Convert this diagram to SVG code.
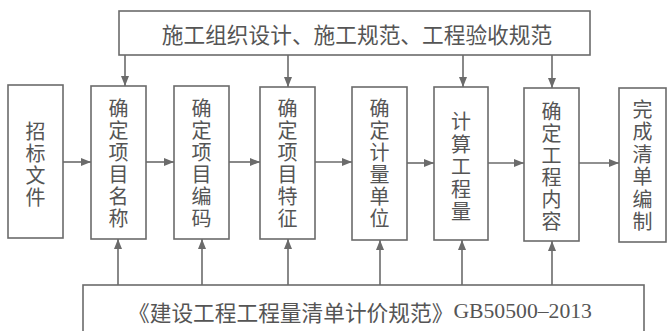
<svg xmlns="http://www.w3.org/2000/svg" width="669" height="331" viewBox="0 0 669 331">
<style>
.box{fill:none;stroke:#6b6b6b;stroke-width:1.6}
.t{font-family:"Noto Sans CJK SC","Noto Sans CJK JP",sans-serif;font-size:20px;fill:#555;text-anchor:middle;dominant-baseline:central}
.h{font-size:21.7px}
.ln{stroke:#6b6b6b;stroke-width:1.6;fill:none;marker-end:url(#ah)}
.lat{font-family:"Liberation Serif",serif}
</style>
<defs>
<marker id="ah" markerUnits="userSpaceOnUse" markerWidth="10" markerHeight="8" refX="10" refY="4" orient="auto">
<path d="M0,0 L10,4 L0,8 z" fill="#6b6b6b"/>
</marker>
</defs>
<rect width="669" height="331" fill="#fff"/>
<g id="top">
<rect class="box" x="119" y="11" width="471" height="44"/>
<text class="t h" x="357" y="33">施工组织设计、施工规范、工程验收规范</text>
</g>
<g id="n1">
<rect class="box" x="8" y="85" width="55" height="153"/>
<text class="t" x="35.5" y="130"><tspan x="35.5">招</tspan><tspan x="35.5" dy="22">标</tspan><tspan x="35.5" dy="22">文</tspan><tspan x="35.5" dy="22">件</tspan></text>
</g>
<g id="n2">
<rect class="box" x="91" y="86" width="55" height="153"/>
<text class="t" x="118.5" y="107"><tspan x="118.5">确</tspan><tspan x="118.5" dy="22">定</tspan><tspan x="118.5" dy="22">项</tspan><tspan x="118.5" dy="22">目</tspan><tspan x="118.5" dy="22">名</tspan><tspan x="118.5" dy="22">称</tspan></text>
</g>
<g id="n3">
<rect class="box" x="174" y="86" width="55" height="153"/>
<text class="t" x="201.5" y="107"><tspan x="201.5">确</tspan><tspan x="201.5" dy="22">定</tspan><tspan x="201.5" dy="22">项</tspan><tspan x="201.5" dy="22">目</tspan><tspan x="201.5" dy="22">编</tspan><tspan x="201.5" dy="22">码</tspan></text>
</g>
<g id="n4">
<rect class="box" x="260" y="87" width="55" height="152"/>
<text class="t" x="287.5" y="107"><tspan x="287.5">确</tspan><tspan x="287.5" dy="22">定</tspan><tspan x="287.5" dy="22">项</tspan><tspan x="287.5" dy="22">目</tspan><tspan x="287.5" dy="22">特</tspan><tspan x="287.5" dy="22">征</tspan></text>
</g>
<g id="n5">
<rect class="box" x="352" y="87" width="55" height="153"/>
<text class="t" x="379.5" y="107"><tspan x="379.5">确</tspan><tspan x="379.5" dy="22">定</tspan><tspan x="379.5" dy="22">计</tspan><tspan x="379.5" dy="22">量</tspan><tspan x="379.5" dy="22">单</tspan><tspan x="379.5" dy="22">位</tspan></text>
</g>
<g id="n6">
<rect class="box" x="434" y="87" width="54" height="153"/>
<text class="t" x="461" y="120"><tspan x="461">计</tspan><tspan x="461" dy="22.5">算</tspan><tspan x="461" dy="22.5">工</tspan><tspan x="461" dy="22.5">程</tspan><tspan x="461" dy="22.5">量</tspan></text>
</g>
<g id="n7">
<rect class="box" x="524" y="88" width="55" height="153"/>
<text class="t" x="551.5" y="110"><tspan x="551.5">确</tspan><tspan x="551.5" dy="22">定</tspan><tspan x="551.5" dy="22">工</tspan><tspan x="551.5" dy="22">程</tspan><tspan x="551.5" dy="22">内</tspan><tspan x="551.5" dy="22">容</tspan></text>
</g>
<g id="n8">
<rect class="box" x="619" y="88" width="47" height="154"/>
<text class="t" x="642.5" y="108"><tspan x="642.5">完</tspan><tspan x="642.5" dy="22.4">成</tspan><tspan x="642.5" dy="22.4">清</tspan><tspan x="642.5" dy="22.4">单</tspan><tspan x="642.5" dy="22.4">编</tspan><tspan x="642.5" dy="22.4">制</tspan></text>
</g>
<g id="bottom">
<rect class="box" x="83" y="285" width="561" height="60"/>
<text class="t h" x="360" y="311">《建设工程工程量清单计价规范》<tspan class="lat">GB50500–2013</tspan></text>
</g>
<g id="connectors">
<line class="ln" x1="63" y1="162" x2="91" y2="162"/>
<line class="ln" x1="146" y1="162" x2="174" y2="162"/>
<line class="ln" x1="229" y1="162" x2="260" y2="162"/>
<line class="ln" x1="315" y1="162" x2="352" y2="162"/>
<line class="ln" x1="407" y1="163" x2="434" y2="163"/>
<line class="ln" x1="488" y1="163" x2="524" y2="163"/>
<line class="ln" x1="579" y1="163" x2="619" y2="163"/>
<line class="ln" x1="125" y1="55" x2="125" y2="86"/>
<line class="ln" x1="288" y1="55" x2="288" y2="87"/>
<line class="ln" x1="463" y1="55" x2="463" y2="87"/>
<line class="ln" x1="552" y1="55" x2="552" y2="88"/>
<line class="ln" x1="118" y1="285" x2="118" y2="239"/>
<line class="ln" x1="202" y1="285" x2="202" y2="239"/>
<line class="ln" x1="288" y1="285" x2="288" y2="239"/>
<line class="ln" x1="380" y1="285" x2="380" y2="240"/>
<line class="ln" x1="462" y1="285" x2="462" y2="240"/>
<line class="ln" x1="552" y1="285" x2="552" y2="241"/>
</g>
</svg>
